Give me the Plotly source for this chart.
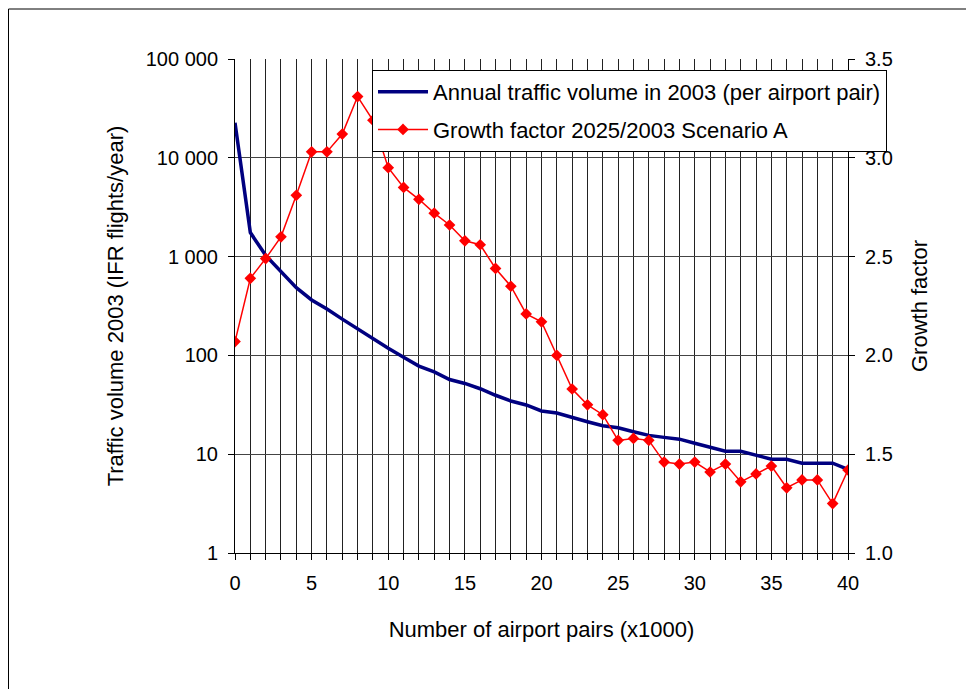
import plotly.graph_objects as go

pairs = list(range(0, 41))
traffic_2003 = [22600, 1750, 1030, 703, 484, 364, 295, 233, 185, 149, 118, 96, 78, 68, 57, 52, 46,
                39.5, 34.5, 31.5, 27.4, 26.1, 23.4, 21.3, 19.4, 18.5, 16.9, 15.5, 14.8, 14.2, 12.9,
                11.7, 10.7, 10.7, 9.75, 8.9, 8.9, 8.1, 8.1, 8.1, 7.0]
growth_factor = [2.07, 2.39, 2.49, 2.60, 2.81, 3.03, 3.03, 3.12, 3.31, 3.19, 2.95, 2.85, 2.79, 2.72,
                 2.66, 2.58, 2.56, 2.44, 2.35, 2.21, 2.17, 2.00, 1.83, 1.75, 1.70, 1.57, 1.58, 1.57,
                 1.46, 1.45, 1.46, 1.41, 1.45, 1.36, 1.40, 1.44, 1.33, 1.37, 1.37, 1.25, 1.42]

left_tickvals = [1, 10, 100, 1000, 10000, 100000]
left_ticktext = ["1", "10", "100", "1 000", "10 000", "100 000"]
right_tickvals = [1.0, 1.5, 2.0, 2.5, 3.0, 3.5]

FONT = "Liberation Sans, Arial, sans-serif"
TICKFONT = dict(family=FONT, size=20, color="black")

fig = go.Figure()
fig.add_trace(go.Scatter(
    x=pairs, y=traffic_2003, mode="lines",
    name="Annual traffic volume in 2003 (per airport pair)", legendgroup="a",
    line=dict(color="#000080", width=3.5), yaxis="y"))
fig.add_trace(go.Scatter(
    x=pairs, y=growth_factor, mode="lines+markers",
    name="Growth factor 2025/2003 Scenario A", legendgroup="b",
    line=dict(color="#ff0000", width=1.5),
    marker=dict(symbol="diamond", size=9, color="#ff0000"), yaxis="y2"))

fig.update_layout(
    width=974, height=689,
    margin=dict(l=227, r=134, t=51, b=144),
    paper_bgcolor="white", plot_bgcolor="white",
    font=dict(family=FONT, size=18, color="black"),
    showlegend=True,
    legend=dict(x=(372 - 235) / 613, y=(553 - 70) / 494, xanchor="left", yanchor="top",
                bgcolor="white", bordercolor="black", borderwidth=1,
                font=dict(size=22), itemwidth=50, tracegroupgap=6,
                traceorder="grouped"),
    xaxis=dict(range=[0, 40], dtick=5, tick0=0, showline=True, linecolor="black", linewidth=1,
               ticks="outside", ticklen=6, tickcolor="black", tickfont=TICKFONT,
               ticklabelstandoff=6,
               showgrid=True, gridcolor="#222", gridwidth=1, zeroline=False,
               minor=dict(dtick=1, ticks="outside", ticklen=6, tickcolor="black",
                          showgrid=True, gridcolor="#222", gridwidth=1),
               title=dict(text="Number of airport pairs (x1000)", standoff=28),
               ),
    yaxis=dict(type="log", range=[0, 5], tickvals=left_tickvals, ticktext=left_ticktext,
               showline=True, linecolor="black", linewidth=1, ticks="outside", ticklen=6,
               tickcolor="black", tickfont=TICKFONT, ticklabelstandoff=6,
               showgrid=True, gridcolor="#444", gridwidth=1, zeroline=False,
               title=dict(text="Traffic volume 2003 (IFR flights/year)", standoff=16)),
    yaxis2=dict(range=[1.0, 3.5], tickvals=right_tickvals, tickformat=".1f",
                overlaying="y", side="right", showline=True, linecolor="black", linewidth=1,
                ticks="outside", ticklen=6, tickcolor="black", tickfont=TICKFONT,
                ticklabelstandoff=6, showgrid=False, zeroline=False,
                title=dict(text="Growth factor", standoff=19)),
    shapes=[dict(type="rect", xref="paper", yref="paper",
                 x0=(8.5 - 235) / 613, x1=(990 - 235) / 613,
                 y0=(553 - 720) / 494, y1=(553 - 9) / 494,
                 line=dict(color="black", width=1), layer="below")],
)

fig.write_html("out.html")
